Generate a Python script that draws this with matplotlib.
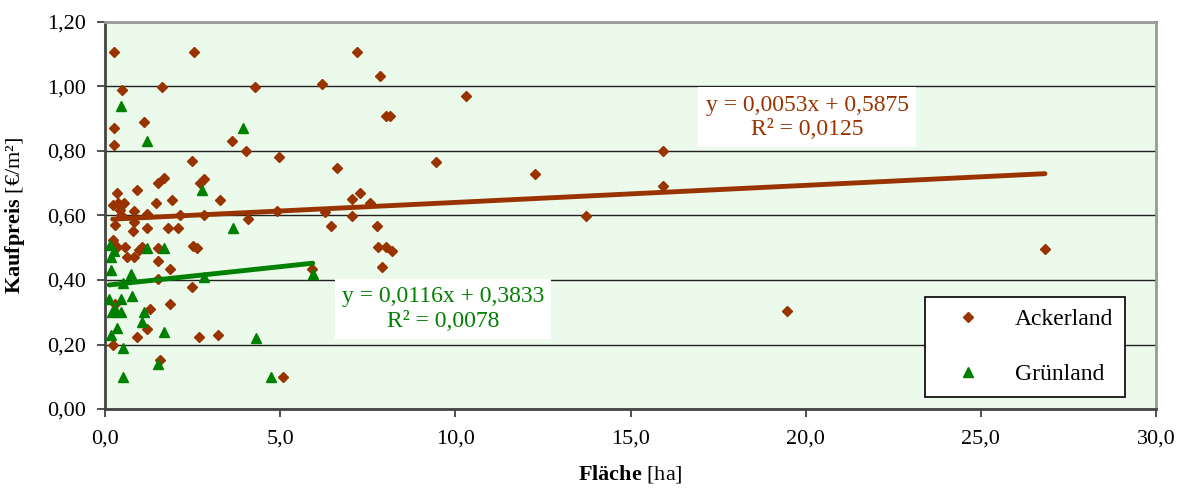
import numpy as np
import matplotlib
matplotlib.use("Agg")
import matplotlib.pyplot as plt
from matplotlib.ticker import FuncFormatter, MultipleLocator

# Ackerland (x = Fläche in ha, y = Kaufpreis in €/m²)
acker_x = [0.27, 2.54, 7.19, 0.49, 1.63, 4.29, 6.20, 7.85, 10.30, 8.02, 8.14,
           1.12, 0.27, 0.27, 3.62, 4.02, 15.94, 2.48, 4.97, 9.44, 6.61, 12.27,
           1.52, 1.69, 2.71, 2.83, 15.94, 0.90, 0.33, 7.28, 1.92, 3.28, 7.06,
           1.47, 7.57, 0.22, 0.38, 0.54, 0.43, 0.45, 0.84, 1.19, 2.14, 2.83,
           4.92, 6.28, 7.06, 13.74, 4.07, 0.84, 0.29, 1.19, 1.81, 2.09, 6.44,
           7.75, 0.79, 0.22, 0.33, 0.57, 1.05, 0.98, 1.52, 2.50, 2.62, 7.78,
           8.02, 8.20, 26.83, 0.62, 0.84, 1.52, 1.86, 5.90, 7.92, 1.52, 2.48,
           0.29, 1.28, 1.86, 19.48, 1.19, 0.90, 2.69, 3.22, 0.22, 1.57, 5.09]
acker_y = [1.106, 1.106, 1.106, 0.99, 1.00, 1.00, 1.008, 1.033, 0.97, 0.908, 0.908,
           0.89, 0.87, 0.82, 0.83, 0.80, 0.80, 0.77, 0.78, 0.767, 0.748, 0.73,
           0.70, 0.716, 0.70, 0.712, 0.692, 0.68, 0.67, 0.669, 0.648, 0.648, 0.65,
           0.638, 0.638, 0.633, 0.64, 0.638, 0.617, 0.602, 0.614, 0.604, 0.602, 0.602,
           0.614, 0.612, 0.60, 0.60, 0.588, 0.581, 0.571, 0.562, 0.562, 0.562, 0.567,
           0.568, 0.552, 0.524, 0.503, 0.503, 0.503, 0.493, 0.50, 0.506, 0.50, 0.501,
           0.503, 0.489, 0.497, 0.47, 0.47, 0.459, 0.434, 0.433, 0.44, 0.402, 0.379,
           0.326, 0.31, 0.325, 0.304, 0.247, 0.222, 0.224, 0.229, 0.198, 0.152, 0.10]

# Grünland
gruen_x = [0.45, 1.19, 3.95, 2.76, 3.66, 1.19, 1.69, 0.14, 0.27, 0.16, 0.16,
           0.73, 2.83, 0.50, 5.93, 0.12, 0.45, 0.78, 0.19, 0.29, 0.45, 1.12,
           1.07, 0.33, 1.69, 0.16, 4.30, 0.50, 1.52, 0.50, 4.74]
gruen_y = [0.94, 0.83, 0.87, 0.68, 0.56, 0.50, 0.50, 0.51, 0.49, 0.47, 0.43,
           0.42, 0.41, 0.39, 0.42, 0.34, 0.34, 0.35, 0.30, 0.31, 0.30, 0.30,
           0.27, 0.25, 0.24, 0.23, 0.22, 0.19, 0.14, 0.10, 0.10]

# linear trend lines as given in the chart (slope, intercept, R²)
acker_trend = (0.0053, 0.5875, 0.0125)
gruen_trend = (0.0116, 0.3833, 0.0078)

brown = "#993300"
green = "#008000"

plt.rcParams["font.family"] = ["Liberation Serif", "DejaVu Serif"]
plt.rcParams["mathtext.fontset"] = "custom"
plt.rcParams["mathtext.rm"] = "Liberation Serif"
plt.rcParams["mathtext.bf"] = "Liberation Serif:bold"

fig = plt.figure(figsize=(11.8, 4.88), dpi=100)
ax = fig.add_axes([105 / 1180, 79 / 488, 1051 / 1180, 387 / 488])
ax.set_facecolor("#ebfaeb")

ax.set_xlim(0, 30)
ax.set_ylim(0, 1.2)
ax.xaxis.set_major_locator(MultipleLocator(5))
ax.yaxis.set_major_locator(MultipleLocator(0.2))
ax.xaxis.set_major_formatter(FuncFormatter(lambda v, p: f"{v:.1f}".replace(".", ",")))
ax.yaxis.set_major_formatter(FuncFormatter(lambda v, p: f"{v:.2f}".replace(".", ",")))
ax.tick_params(axis="both", labelsize=16, direction="out", length=6, width=1.2, color="#333333")
ax.tick_params(axis="x", pad=9)
ax.tick_params(axis="y", pad=8)

ax.yaxis.grid(True, color="#222222", linewidth=1.0, zorder=1)
ax.set_axisbelow(True)
for side in ["left", "bottom"]:
    ax.spines[side].set_color("#444444")
    ax.spines[side].set_linewidth(2)
for side in ["top", "right"]:
    ax.spines[side].set_color("#999999")
    ax.spines[side].set_linewidth(2)

ax.plot(acker_x, acker_y, "D", color=brown, ms=5.5, ls="none", label="Ackerland", zorder=3)
ax.plot(gruen_x, gruen_y, "^", color=green, ms=7.5, ls="none", label="Grünland", zorder=3)

# trend lines over the range of each series
for xs, (m, b, r2), col in [(acker_x, acker_trend, brown), (gruen_x, gruen_trend, green)]:
    tx = np.array([min(xs), max(xs)])
    ax.plot(tx, m * tx + b, color=col, lw=3.5, solid_capstyle="round", zorder=4)

ax.text(20.04, 0.905, "y = 0,0053x + 0,5875\nR² = 0,0125", color=brown, fontsize=17,
        ha="center", va="center", linespacing=1.2, zorder=5,
        bbox=dict(boxstyle="square,pad=0.3", fc="white", ec="none"))
ax.text(9.65, 0.31, "y = 0,0116x + 0,3833\nR² = 0,0078", color=green, fontsize=17,
        ha="center", va="center", linespacing=1.2, zorder=5,
        bbox=dict(boxstyle="square,pad=0.3", fc="white", ec="none"))

leg = ax.legend(loc="upper left", bbox_to_anchor=(820 / 1051, 112 / 387), fontsize=17,
                frameon=True, fancybox=False, edgecolor="black", framealpha=1,
                labelspacing=1.4, handletextpad=0.7, borderpad=0.5, borderaxespad=0,
                handlelength=2.6)
leg.get_frame().set_linewidth(1.2)

ax.set_xlabel(r"$\mathbf{Fläche}$ [ha]", fontsize=16, labelpad=10)
ax.set_ylabel(r"$\mathbf{Kaufpreis}$ [€/m²]", fontsize=16, labelpad=14)

fig.savefig("out.png", dpi=100)
